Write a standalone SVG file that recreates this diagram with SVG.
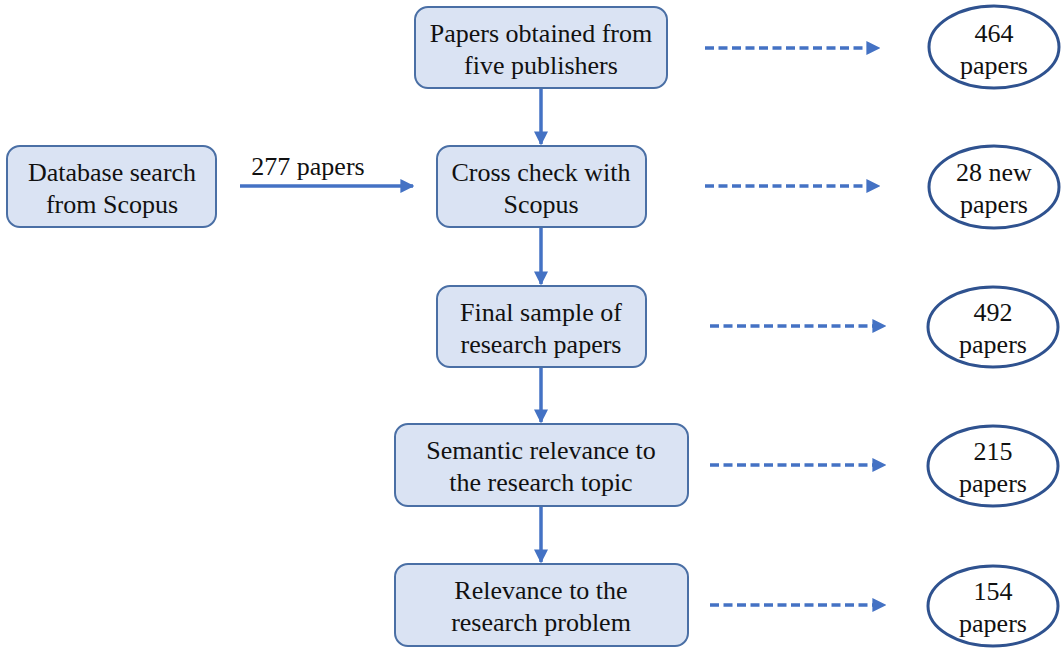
<svg xmlns="http://www.w3.org/2000/svg" width="1061" height="649" viewBox="0 0 1061 649">
  <style>
    .box { fill: #dae3f3; stroke: #4a6fa5; stroke-width: 2; }
    .oval { fill: #ffffff; stroke: #2f528f; stroke-width: 3; }
    .lbl { font-family: "Liberation Serif", "Times New Roman", serif; font-size: 26px; fill: #111111; text-anchor: middle; }
    .solid { stroke: #4472c4; stroke-width: 3.5; fill: none; }
    .dash { stroke: #4472c4; stroke-width: 3.5; fill: none; stroke-dasharray: 9 4.5; }
  </style>
  <defs>
    <marker id="head" viewBox="0 0 10 10" refX="9" refY="5" markerWidth="4" markerHeight="4" orient="auto" markerUnits="strokeWidth">
      <path d="M0,0 L10,5 L0,10 z" fill="#4472c4"/>
    </marker>
  </defs>

  <g id="connectors">
    <line class="solid" x1="541" y1="88" x2="541" y2="144" marker-end="url(#head)"/>
    <line class="solid" x1="541" y1="227" x2="541" y2="284" marker-end="url(#head)"/>
    <line class="solid" x1="541" y1="367" x2="541" y2="422" marker-end="url(#head)"/>
    <line class="solid" x1="541" y1="506" x2="541" y2="562" marker-end="url(#head)"/>
    <line class="solid" x1="240" y1="186" x2="413" y2="186" marker-end="url(#head)"/>
    <line class="dash" x1="705" y1="48" x2="879" y2="48" marker-end="url(#head)"/>
    <line class="dash" x1="705" y1="186" x2="879" y2="186" marker-end="url(#head)"/>
    <line class="dash" x1="710" y1="326" x2="885" y2="326" marker-end="url(#head)"/>
    <line class="dash" x1="710" y1="465" x2="885" y2="465" marker-end="url(#head)"/>
    <line class="dash" x1="710" y1="605" x2="885" y2="605" marker-end="url(#head)"/>
    <text class="lbl" x="308" y="175">277 papers</text>
  </g>

  <g id="publishers">
    <rect class="box" x="415" y="7" width="252" height="81" rx="13"/>
    <text class="lbl" x="541" y="42">Papers obtained from</text>
    <text class="lbl" x="541" y="74">five publishers</text>
  </g>
  <g id="scopus-search">
    <rect class="box" x="7" y="146" width="209" height="81" rx="13"/>
    <text class="lbl" x="112" y="181">Database search</text>
    <text class="lbl" x="112" y="213">from Scopus</text>
  </g>
  <g id="cross-check">
    <rect class="box" x="437" y="146" width="209" height="81" rx="13"/>
    <text class="lbl" x="541" y="181">Cross check with</text>
    <text class="lbl" x="541" y="213">Scopus</text>
  </g>
  <g id="final-sample">
    <rect class="box" x="437" y="286" width="209" height="81" rx="13"/>
    <text class="lbl" x="541" y="321">Final sample of</text>
    <text class="lbl" x="541" y="353">research papers</text>
  </g>
  <g id="semantic">
    <rect class="box" x="395" y="424" width="293" height="82" rx="13"/>
    <text class="lbl" x="541" y="459">Semantic relevance to</text>
    <text class="lbl" x="541" y="491">the research topic</text>
  </g>
  <g id="problem">
    <rect class="box" x="395" y="564" width="293" height="82" rx="13"/>
    <text class="lbl" x="541" y="599">Relevance to the</text>
    <text class="lbl" x="541" y="631">research problem</text>
  </g>

  <g id="count-464">
    <ellipse class="oval" cx="994" cy="47" rx="65" ry="41"/>
    <text class="lbl" x="994" y="42">464</text>
    <text class="lbl" x="994" y="74">papers</text>
  </g>
  <g id="count-28">
    <ellipse class="oval" cx="994" cy="187" rx="65" ry="41"/>
    <text class="lbl" x="994" y="181">28 new</text>
    <text class="lbl" x="994" y="213">papers</text>
  </g>
  <g id="count-492">
    <ellipse class="oval" cx="993" cy="327" rx="65" ry="40"/>
    <text class="lbl" x="993" y="321">492</text>
    <text class="lbl" x="993" y="353">papers</text>
  </g>
  <g id="count-215">
    <ellipse class="oval" cx="993" cy="466" rx="65" ry="40"/>
    <text class="lbl" x="993" y="460">215</text>
    <text class="lbl" x="993" y="492">papers</text>
  </g>
  <g id="count-154">
    <ellipse class="oval" cx="993" cy="606" rx="65" ry="40"/>
    <text class="lbl" x="993" y="600">154</text>
    <text class="lbl" x="993" y="632">papers</text>
  </g>
</svg>
